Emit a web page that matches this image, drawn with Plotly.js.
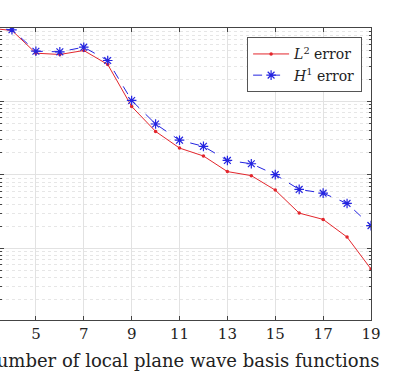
<!DOCTYPE html>
<html>
<head>
<meta charset="utf-8">
<script src="https://cdn.plot.ly/plotly-3.0.1.min.js"></script>
<style>html,body{margin:0;padding:0;background:#fff;}#chart{width:419px;height:373px;}</style>
</head>
<body>
<div id="chart"></div>
<script>
// Number of local plane wave basis functions
const basisCounts = [3, 4, 5, 6, 7, 8, 9, 10, 11, 12, 13, 14, 15, 16, 17, 18, 19];
// L2 error
const l2Error = [1.0, 0.925, 0.454, 0.436, 0.494, 0.319, 0.0855, 0.0391, 0.0232, 0.0181, 0.0111, 0.00978, 0.00621, 0.00302, 0.00248, 0.001425, 0.000523];
// H1 error
const h1Error = [1.01, 0.945, 0.483, 0.474, 0.548, 0.361, 0.1032, 0.0493, 0.0297, 0.0245, 0.01575, 0.0142, 0.01009, 0.00635, 0.00565, 0.00409, 0.00204];
const xTickVals = [5, 7, 9, 11, 13, 15, 17, 19];
const xTitle = "Number of local plane wave basis functions";

const serif = "DejaVu Serif";

const traces = [
  {
    x: basisCounts, y: l2Error, type: 'scatter', mode: 'lines+markers',
    name: '<i>L</i><sup>2</sup> error',
    line: {color: '#e3262c', width: 1},
    marker: {symbol: 'circle', size: 3.5, color: '#e3262c'}
  },
  {
    x: basisCounts, y: h1Error, type: 'scatter', mode: 'lines+markers',
    name: '<i>H</i><sup>1</sup> error',
    line: {color: '#2424e0', width: 1, dash: 'dash'},
    marker: {symbol: 'asterisk-open', size: 8, line: {color: '#2424e0', width: 1.2}}
  }
];

const layout = {
  width: 419, height: 373,
  margin: {l: 0, r: 48, t: 28, b: 53},
  paper_bgcolor: '#fff', plot_bgcolor: '#fff',
  showlegend: true,
  legend: {
    x: 0.976, xanchor: 'right', y: 0.968, yanchor: 'top',
    bgcolor: '#fff', bordercolor: '#555', borderwidth: 1,
    font: {family: serif, size: 14, color: '#222'},
    itemwidth: 36,
    tracegroupgap: 0
  },
  xaxis: {
    range: [3.5, 19],
    tickvals: xTickVals,
    ticks: 'inside', ticklen: 4, tickcolor: '#444',
    showline: true, linecolor: '#444', linewidth: 1, mirror: 'ticks',
    showgrid: true, gridcolor: '#e2e2e2', gridwidth: 1,
    zeroline: false,
    tickfont: {family: serif, size: 15, color: '#222'}
  },
  yaxis: {
    type: 'log',
    range: [-3.975, 0],
    dtick: 1,
    showticklabels: false,
    ticks: 'inside', ticklen: 4, tickcolor: '#444',
    showline: true, linecolor: '#444', linewidth: 1, mirror: 'ticks',
    showgrid: true, gridcolor: '#e2e2e2', gridwidth: 1,
    zeroline: false,
    minor: {dtick: 'D1', showgrid: true, gridcolor: '#e6e6e6', griddash: 'dot', ticks: 'inside', ticklen: 2, tickcolor: '#444'}
  },
  annotations: [
    {
      text: xTitle, xref: 'paper', yref: 'paper',
      x: 381 / 371, xanchor: 'right',
      y: -0.095, yanchor: 'top',
      showarrow: false,
      font: {family: serif, size: 18, color: '#222'}
    }
  ]
};

Plotly.newPlot('chart', traces, layout, {displayModeBar: false, staticPlot: true});
</script>
</body>
</html>
